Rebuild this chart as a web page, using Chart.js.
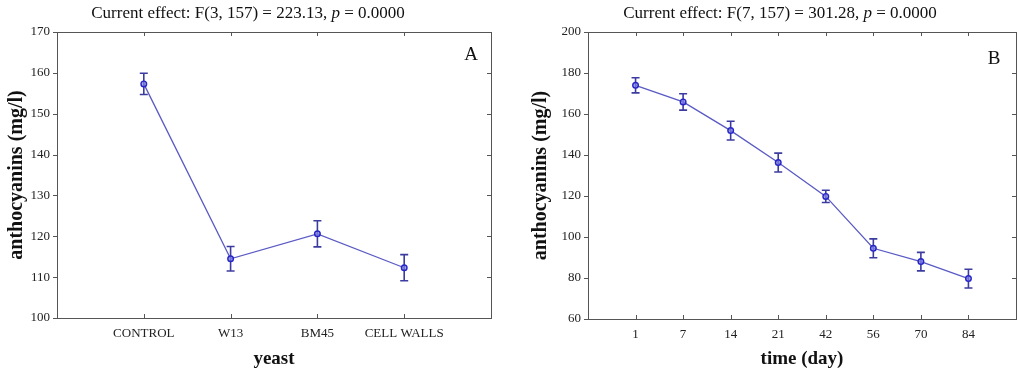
<!DOCTYPE html>
<html>
<head>
<meta charset="utf-8">
<script src="https://cdn.jsdelivr.net/npm/chart.js@4.4.0/dist/chart.umd.min.js"></script>
<style>
  html, body { margin: 0; padding: 0; background: #fff; }
  #wrap { position: relative; width: 1024px; height: 372px; }
  canvas { position: absolute; top: 0; }
  #chartA { left: 0; }
  #chartB { left: 512px; }
</style>
</head>
<body>
<div id="wrap">
  <canvas id="chartA" width="512" height="372"></canvas>
  <canvas id="chartB" width="512" height="372"></canvas>
</div>
<script>
// Painel A: levedura
const yeastLabels = ['CONTROL', 'W13', 'BM45', 'CELL WALLS'];
const yeastMeans = [157.3, 114.5, 120.6, 112.3];
const yeastErrors = [2.6, 3.0, 3.2, 3.2];

// Painel B: tempo (dias)
const dayLabels = ['1', '7', '14', '21', '42', '56', '70', '84'];
const dayMeans = [174.0, 165.9, 151.9, 136.3, 119.8, 94.5, 88.0, 79.7];
const dayErrors = [3.7, 4.0, 4.6, 4.6, 3.0, 4.6, 4.5, 4.6];

const SERIF = '"Liberation Serif", "Times New Roman", serif';

// Barras de erro desenhadas com as escalas do gráfico
const errorBars = {
    id: 'errorBars',
    beforeDatasetsDraw(chart) {
        const errs = chart.options.plugins.errorBars.errors;
        const ctx = chart.ctx;
        const xs = chart.scales.x, ys = chart.scales.y;
        ctx.save();
        ctx.strokeStyle = '#3c3ca0';
        ctx.lineWidth = 1.6;
        chart.data.datasets[0].data.forEach((p, i) => {
            const x = xs.getPixelForValue(p.x);
            const yTop = ys.getPixelForValue(p.y + errs[i]);
            const yBot = ys.getPixelForValue(p.y - errs[i]);
            ctx.beginPath();
            ctx.moveTo(x, yTop); ctx.lineTo(x, yBot);
            ctx.moveTo(x - 4, yTop); ctx.lineTo(x + 4, yTop);
            ctx.moveTo(x - 4, yBot); ctx.lineTo(x + 4, yBot);
            ctx.stroke();
        });
        ctx.restore();
    }
};

// Moldura, marcas dos eixos, título e letra do painel
const frame = {
    id: 'frame',
    afterDraw(chart) {
        const o = chart.options.plugins.frame;
        const ctx = chart.ctx;
        const a = chart.chartArea;
        const xs = chart.scales.x, ys = chart.scales.y;
        ctx.save();
        ctx.strokeStyle = '#555';
        ctx.lineWidth = 1;
        ctx.strokeRect(Math.round(a.left) + 0.5, Math.round(a.top) + 0.5,
            Math.round(a.right - a.left), Math.round(a.bottom - a.top));
        ctx.beginPath();
        xs.ticks.forEach(t => {
            if (t.value < 1 || t.value > o.count) return;
            const x = Math.round(xs.getPixelForValue(t.value)) + 0.5;
            ctx.moveTo(x, a.top); ctx.lineTo(x, a.top + 4);
            ctx.moveTo(x, a.bottom); ctx.lineTo(x, a.bottom - 4);
        });
        ys.ticks.forEach(t => {
            const y = Math.round(ys.getPixelForValue(t.value)) + 0.5;
            ctx.moveTo(a.left, y); ctx.lineTo(a.left - 4, y);
            ctx.moveTo(a.right, y); ctx.lineTo(a.right - 4, y);
        });
        ctx.stroke();

        // título com p em itálico
        ctx.fillStyle = '#111';
        ctx.textBaseline = 'alphabetic';
        const parts = [
            [o.titleStart, '17px ' + SERIF],
            ['p', 'italic 17px ' + SERIF],
            [' = 0.0000', '17px ' + SERIF]
        ];
        let total = 0;
        parts.forEach(([txt, f]) => { ctx.font = f; total += ctx.measureText(txt).width; });
        let x = o.titleX - total / 2;
        parts.forEach(([txt, f]) => {
            ctx.font = f;
            ctx.fillText(txt, x, 18);
            x += ctx.measureText(txt).width;
        });

        ctx.font = '19px ' + SERIF;
        ctx.textAlign = 'center';
        ctx.fillText(o.letter, o.letterX, o.letterY);
        ctx.restore();
    }
};

function criarGrafico(id, labels, means, errors, yMin, yMax, yStep, extra) {
    const n = labels.length;
    const ctx = document.getElementById(id).getContext('2d');
    return new Chart(ctx, {
        type: 'line',
        data: {
            datasets: [{
                data: means.map((v, i) => ({ x: i + 1, y: v })),
                borderColor: '#5a5ac4',
                borderWidth: 1.3,
                pointRadius: 2.8,
                pointBorderWidth: 1.4,
                pointBorderColor: '#2626c8',
                pointBackgroundColor: 'rgba(130,130,225,0.7)',
                tension: 0
            }]
        },
        options: {
            responsive: false,
            animation: false,
            devicePixelRatio: 1,
            layout: { padding: { left: 0, right: extra.padRight, top: 32, bottom: 0 } },
            plugins: {
                legend: { display: false },
                tooltip: { enabled: false },
                errorBars: { errors: errors },
                frame: {
                    count: n,
                    titleStart: extra.titleStart,
                    titleX: extra.titleX,
                    letter: extra.letter,
                    letterX: extra.letterX,
                    letterY: extra.letterY
                }
            },
            scales: {
                x: {
                    type: 'linear',
                    min: 0,
                    max: n + 1,
                    afterFit: s => { s.height = extra.xHeight; },
                    afterBuildTicks: s => {
                        s.ticks = [];
                        for (let i = 0; i <= n + 1; i++) s.ticks.push({ value: i });
                    },
                    grid: { display: false, drawTicks: false },
                    border: { display: false },
                    ticks: {
                        autoSkip: false,
                        maxRotation: 0,
                        padding: 8,
                        color: '#222',
                        font: { family: SERIF, size: 13 },
                        callback: v => (v >= 1 && v <= n) ? labels[v - 1] : ''
                    },
                    title: {
                        display: true,
                        text: extra.xTitle,
                        color: '#111',
                        font: { family: SERIF, size: 19, weight: 'bold' },
                        padding: { top: 5, bottom: 2 }
                    }
                },
                y: {
                    min: yMin,
                    max: yMax,
                    afterFit: s => { s.width = extra.yWidth; },
                    grid: { display: false, drawTicks: false },
                    border: { display: false },
                    ticks: {
                        stepSize: yStep,
                        padding: 7,
                        color: '#222',
                        font: { family: SERIF, size: 13 }
                    },
                    title: {
                        display: true,
                        text: 'anthocyanins (mg/l)',
                        color: '#111',
                        font: { family: SERIF, size: 20, weight: 'bold' },
                        padding: { top: extra.yTitlePad, bottom: 0 }
                    }
                }
            }
        },
        plugins: [errorBars, frame]
    });
}

criarGrafico('chartA', yeastLabels, yeastMeans, yeastErrors, 100, 170, 10, {
    padRight: 21, yWidth: 57, xHeight: 54, yTitlePad: 5,
    xTitle: 'yeast',
    titleStart: 'Current effect: F(3, 157) = 223.13, ',
    titleX: 248, letter: 'A', letterX: 471, letterY: 60
});

criarGrafico('chartB', dayLabels, dayMeans, dayErrors, 60, 200, 20, {
    padRight: 2, yWidth: 76, xHeight: 53, yTitlePad: 17,
    xTitle: 'time (day)',
    titleStart: 'Current effect: F(7, 157) = 301.28, ',
    titleX: 268, letter: 'B', letterX: 482, letterY: 64
});
</script>
</body>
</html>
